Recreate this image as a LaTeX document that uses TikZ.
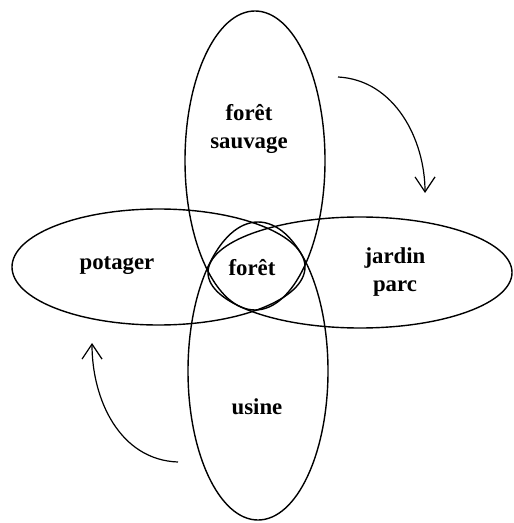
\documentclass[tikz,border=0pt]{standalone}
\usepackage{fontspec}
\setmainfont{Liberation Serif}
\usepackage{tikz}
\usetikzlibrary{arrows.meta, positioning}

\tikzset{
  zone/.style={draw, line width=0.7pt},
  lieu/.style={font=\fontsize{11.4}{14}\selectfont\bfseries, align=center, inner sep=0pt},
  cycle/.style={line width=0.6pt, -{Straight Barb[length=7.5pt,width=10pt]}}
}

\begin{document}
\begin{tikzpicture}[x=0.5pt, y=-0.5pt]
                \useasboundingbox (0,0) rectangle (513,523);

                % les quatre zones
                \draw[zone] (255,160.5) ellipse [x radius=35pt, y radius=74.75pt];
                \draw[zone] (258,371) ellipse [x radius=35pt, y radius=74.5pt];
                \draw[zone] (158.5,267) ellipse [x radius=73.25pt, y radius=29pt];
                \draw[zone] (360,272.5) ellipse [x radius=76pt, y radius=27.75pt];

                % textes
                \node[lieu] (sauvage) at (249,129) {forêt\\sauvage};
                \node[lieu] (foret) at (252,268) {forêt};
                \node[lieu] (potager) at (117,266) {potager};
                \node[lieu] (jardin) at (395,272) {jardin\\parc};
                \node[lieu] (usine) at (257,407) {usine};

                % sens de rotation
                \coordinate (hautA) at (338,77);
                \coordinate (hautB) at (425,193);
                \coordinate (basA) at (178,462);
                \coordinate (basB) at (92,343);
                \draw[cycle] (hautA) .. controls (395,80) and (425,140) .. (hautB);
                \draw[cycle] (basA) .. controls (120,460) and (92,400) .. (basB);
            \end{tikzpicture}
\end{document}
